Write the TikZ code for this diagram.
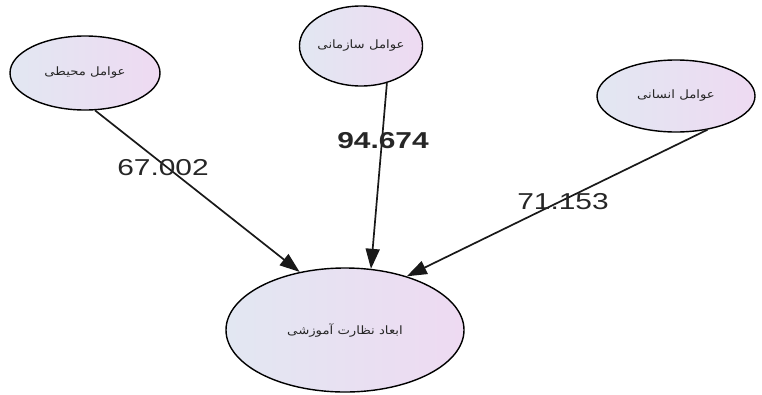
\documentclass[tikz,border=0pt]{standalone}
\usepackage{fontspec}
\setmainfont{Liberation Sans}
\newfontfamily\fafont[Script=Arabic]{DejaVu Sans}
\TeXXeTstate=1
\usetikzlibrary{shapes.geometric,arrows.meta}
\definecolor{lftc}{HTML}{E2E7F2}
\definecolor{rgtc}{HTML}{EEDAF2}
\newcommand\wideText[2][1.3]{\scalebox{#1}[1]{#2}}
\newcommand\fatext[1]{\wideText[1.15]{\fafont\fontsize{11.5}{13}\selectfont\beginR #1\endR}}
\tikzset{
  factor/.style={ellipse, draw=black, line width=1.4pt, left color=lftc, right color=rgtc, inner sep=0pt, text=black!85},
  link/.style={-{Triangle[length=20pt,width=14pt]}, line width=1.7pt, draw=black!90},
  weight/.style={font=\fontsize{23}{25}\selectfont, text=black!85, inner sep=0pt}
}
\begin{document}
\begin{tikzpicture}[x=1pt,y=-1pt]
\useasboundingbox (0,0) rectangle (762,394);
\node[factor, minimum width=150pt, minimum height=74pt] (env) at (85,73) {\fatext{عوامل محیطی}};
\node[factor, minimum width=118pt, minimum height=80pt] (org) at (361,46) {\fatext{عوامل سازمانی}};
\node[factor, minimum width=158pt, minimum height=72pt] (hum) at (676,96) {\fatext{عوامل انسانی}};
\node[factor, minimum width=238pt, minimum height=124pt] (dim) at (345,330) {\fatext{ابعاد نظارت آموزشی}};
\draw[link] (env.-75) -- (dim.128);
\draw[link] (org.-55) -- (dim.67);
\draw[link] (hum.-47) -- (dim.41);
\node[weight] (w1) at (163,168) {\wideText{67.002}};
\node[weight, font=\fontsize{23}{25}\selectfont\bfseries] (w2) at (383,141) {\wideText{94.674}};
\node[weight] (w3) at (563,202) {\wideText{71.153}};
\end{tikzpicture}
\end{document}
